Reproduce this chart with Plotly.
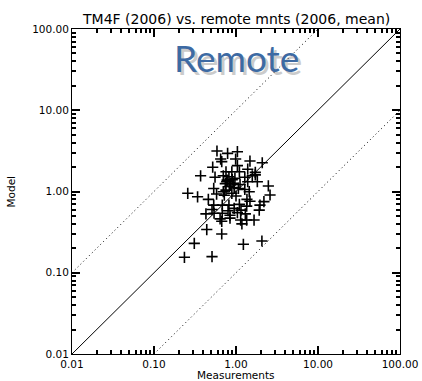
import plotly.graph_objects as go

# Data
measurements = [0.586, 0.79, 1.04, 0.65, 0.99, 0.67, 1.48, 2.09, 0.52, 1.04,
                1.39, 0.755, 0.89, 1.10, 1.72, 0.37, 0.555, 0.70, 0.82, 1.28,
                1.58, 1.72, 0.77, 0.93, 1.39, 1.82, 0.83, 2.48, 0.535, 0.755,
                1.07, 1.28, 1.45, 0.258, 0.34, 0.58, 0.70, 0.89, 2.60, 0.46,
                1.36, 1.48, 2.19, 0.535, 0.68, 0.82, 1.10, 1.35, 1.96, 0.51,
                0.95, 1.15, 1.92, 0.43, 0.54, 0.68, 0.845, 1.04, 1.30, 0.64,
                0.845, 1.14, 1.35, 1.66, 0.67, 1.18, 0.44, 0.67, 0.31, 1.23,
                2.07, 0.235, 0.51,
                0.86, 0.95, 0.78, 1.00, 0.90, 0.74, 1.12, 0.80, 0.97, 0.72]
model = [3.15, 2.95, 3.09, 2.51, 2.51, 2.33, 2.37, 2.26, 1.99, 2.08,
         1.88, 1.75, 1.75, 1.75, 1.72, 1.56, 1.50, 1.56, 1.52, 1.50,
         1.56, 1.60, 1.32, 1.26, 1.32, 1.32, 1.15, 1.17, 1.09, 1.04,
         1.09, 1.06, 0.995, 0.95, 0.86, 0.93, 0.995, 0.95, 0.905, 0.80,
         0.80, 0.76, 0.75, 0.68, 0.68, 0.68, 0.695, 0.66, 0.68, 0.60,
         0.62, 0.59, 0.59, 0.53, 0.54, 0.54, 0.51, 0.55, 0.53, 0.46,
         0.47, 0.445, 0.445, 0.445, 0.43, 0.40, 0.34, 0.30, 0.23, 0.224,
         0.246, 0.155, 0.158,
         1.20, 1.12, 1.38, 0.88, 1.40, 1.25, 1.22, 0.58, 1.45, 0.90]

one_to_one_x = [0.01, 100.0]
one_to_one_y = [0.01, 100.0]
upper_x = [0.01, 10.0]
upper_y = [0.1, 100.0]
lower_x = [0.1, 100.0]
lower_y = [0.01, 10.0]

major_vals = [0.01, 0.1, 1.0, 10.0, 100.0]
major_text = ["0.01", "0.10", "1.00", "10.00", "100.00"]
minor_vals = [m * d for d in [0.01, 0.1, 1.0, 10.0] for m in range(2, 10)]

title_text = "TM4F (2006) vs. remote mnts (2006, mean)"
x_title = "Measurements"
y_title = "Model"
watermark = "Remote"

FONT = "DejaVu Sans"
W, H = 422, 381
ML, MR, MT, MB = 72, 22, 29, 27

all_vals = major_vals + minor_vals
all_text = major_text + [""] * len(minor_vals)

fig = go.Figure()
fig.add_trace(go.Scatter(x=one_to_one_x, y=one_to_one_y, mode="lines",
                         line=dict(color="black", width=1), hoverinfo="skip"))
fig.add_trace(go.Scatter(x=upper_x, y=upper_y, mode="lines",
                         line=dict(color="black", width=1, dash="1px,3px"), hoverinfo="skip"))
fig.add_trace(go.Scatter(x=lower_x, y=lower_y, mode="lines",
                         line=dict(color="black", width=1, dash="1px,3px"), hoverinfo="skip"))
fig.add_trace(go.Scatter(x=measurements, y=model, mode="markers",
                         marker=dict(symbol="cross-thin-open", size=8, color="black",
                                     line=dict(color="black", width=1.6))))
# invisible trace that activates the overlay axes carrying the long decade ticks
fig.add_trace(go.Scatter(x=[1.0], y=[1.0], xaxis="x2", yaxis="y2", mode="markers",
                         marker=dict(opacity=0), hoverinfo="skip"))

base = dict(
    type="log", showgrid=False, zeroline=False, range=[-2, 2], automargin=False,
    showline=True, linecolor="black", linewidth=1, mirror="allticks",
    ticks="inside", tickcolor="black", tickwidth=2, tickmode="array",
    tickfont=dict(family=FONT, size=10.5, color="black"),
)

fig.update_layout(
    width=W, height=H,
    margin=dict(l=ML, r=MR, t=MT, b=MB, autoexpand=False),
    plot_bgcolor="white", paper_bgcolor="white",
    showlegend=False,
    xaxis=dict(base, tickvals=all_vals, ticktext=all_text, ticklen=4),
    yaxis=dict(base, tickvals=all_vals, ticktext=all_text, ticklen=4),
    xaxis2=dict(base, tickvals=major_vals, ticklen=8, showticklabels=False,
                overlaying="x", anchor="y2"),
    yaxis2=dict(base, tickvals=major_vals, ticklen=8, showticklabels=False,
                overlaying="y", anchor="x2"),
    annotations=[
        dict(text=title_text, xref="paper", yref="paper", x=0.5, y=1.0,
             xanchor="center", yanchor="bottom", showarrow=False,
             font=dict(family=FONT, size=14, color="black")),
        dict(text=x_title, xref="paper", yref="paper", x=0.5, y=0,
             xanchor="center", yanchor="top", yshift=-13, showarrow=False,
             font=dict(family=FONT, size=10.5, color="black")),
        dict(text=y_title, xref="paper", yref="paper", x=0, y=0.5,
             xanchor="center", yanchor="middle", xshift=-62, textangle=-90,
             showarrow=False, font=dict(family=FONT, size=10.5, color="black")),
        dict(text=watermark, xref="paper", yref="paper", x=0.503, y=0.911,
             xanchor="center", yanchor="middle", xshift=3, yshift=-3,
             showarrow=False, opacity=0.3,
             font=dict(family="Lato", size=37, color="#555555")),
        dict(text=watermark, xref="paper", yref="paper", x=0.503, y=0.911,
             xanchor="center", yanchor="middle", showarrow=False,
             font=dict(family="Lato", size=37, color="#3d6aa3")),
    ],
)

fig.write_html("out.html")
